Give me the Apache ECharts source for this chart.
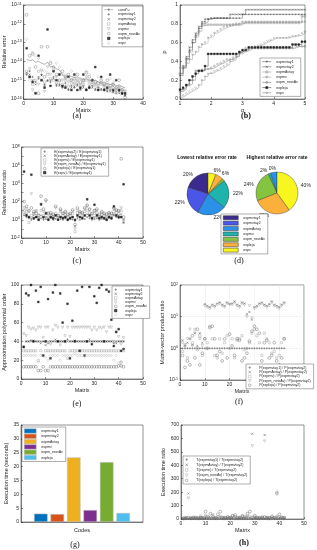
<!DOCTYPE html>
<html><head><meta charset="utf-8">
<script src="https://cdn.jsdelivr.net/npm/echarts@6/dist/echarts.min.js"></script>
<style>html,body{margin:0;padding:0;background:#fff}#c{width:317px;height:550px}</style>
</head><body><div id="c"></div><script>
// ---------- DATA ----------
// (a) relative error, matrices 1..34
const a_condu = [1.3e-14,1.1e-14,1.2e-14,9e-15,1e-14,8e-15,7e-15,9e-15,5e-15,5.5e-15,4e-15,3.5e-15,2e-15,1.5e-15,1.8e-15,1.6e-15,1.4e-15,1.5e-15,1.2e-15,1.1e-15,1.2e-15,1e-15,9e-16,1e-15,8e-16,7e-16,8e-16,6.5e-16,6e-16,6.5e-16,5e-16,5.5e-16,4.5e-16,4e-16];
const a_tay1 = [2e-15,3e-15,1.5e-15,8e-16,1.2e-15,2e-15,6e-16,1e-15,8e-16,1.5e-15,5e-16,6e-16,4e-16,7e-16,3e-16,5e-16,4e-16,6e-16,3.5e-16,5e-16,3e-16,4e-16,5e-16,3e-16,4e-16,3e-16,3.5e-16,2.5e-16,3e-16,2.5e-16,2e-16,2.5e-16,2e-16,1.5e-16];
const a_tay2 = [2.5e-15,2e-15,1e-15,6e-16,1.5e-15,1.8e-15,5e-16,9e-16,1e-15,1.2e-15,6e-16,5e-16,4.5e-16,5e-16,3.5e-16,4e-16,4.5e-16,5e-16,3e-16,4e-16,3.5e-16,5e-16,4e-16,3.5e-16,3e-16,3.5e-16,3e-16,3e-16,2.5e-16,2.2e-16,2.5e-16,2e-16,1.8e-16,1.6e-16];
const a_Avtay = [3e-15,1.5e-15,6e-16,1e-15,3e-15,1e-15,8e-16,2e-15,1.2e-15,1e-15,7e-16,9e-16,6e-16,1e-15,5e-16,7e-16,6e-16,8e-16,5e-16,6e-16,1e-15,7e-16,6e-16,5e-16,4e-16,6e-16,5e-16,4e-16,3.5e-16,4e-16,3e-16,3.5e-16,2.5e-16,2e-16];
const a_mv = [2e-15,4e-15,3e-16,2e-16,6e-16,3e-15,2.5e-16,5e-15,2e-15,3e-15,1.5e-15,2e-15,1e-15,1.2e-15,8e-16,1e-15,7e-16,1e-15,6e-16,8e-16,1.5e-15,9e-16,7e-16,6e-16,5e-16,7e-16,5e-16,6e-16,4e-16,5e-16,3.5e-16,4e-16,3e-16,2.5e-16];
const a_newAv = [3e-12,2e-14,2.5e-14,5e-15,2e-16,6e-14,1.5e-15,6e-14,8e-15,5e-15,2e-15,1e-15,3e-15,1.5e-15,2e-15,1e-15,1.2e-15,2e-15,8e-16,1e-15,2.5e-15,1.5e-15,1e-15,8e-16,7e-16,1e-15,6e-16,1e-15,5e-16,6e-16,4e-16,1e-15,3e-16,1.2e-16];
const a_leja = [5e-14,1.5e-15,8e-16,2e-16,2e-14,1e-15,4e-16,5e-13,5e-16,3e-15,1e-15,2e-15,5e-16,4e-16,1.5e-15,3e-16,2e-15,3e-16,4e-16,2e-15,3e-16,4e-16,1e-15,5e-15,3e-16,1.5e-15,3e-16,4e-16,2e-15,3e-16,1e-15,3e-16,2e-16,2e-16];
const a_v = [1.5e-13,1e-15,3e-14,2e-14,1.5e-14,4e-15,3e-15,2.5e-15,1e-14,4e-15,8e-15,5e-15,2e-15,2e-15,1.2e-15,3e-15,1e-15,1e-15,1.2e-15,1e-15,3e-15,2e-15,1e-15,7e-16,1.5e-15,8e-16,6e-16,5e-16,1.2e-15,8e-16,1e-15,5e-16,4e-16,3e-16];

// (b) performance profile
const b_alpha = [1,1.1,1.2,1.3,1.4,1.5,1.6,1.7,1.8,1.9,2,2.1,2.2,2.3,2.4,2.5,2.6,2.7,2.8,2.9,3,3.1,3.2,3.3,3.4,3.5,3.6,3.7,3.8,3.9,4,4.1,4.2,4.3,4.4,4.5,4.6,4.7,4.8,4.9,5];
const b_tay1 = [0.25,0.33,0.43,0.52,0.6,0.68,0.75,0.8,0.82,0.85,
  0.86,0.86,0.86,0.86,0.86,0.86,0.86,0.86,0.86,0.86,
  0.9,0.9,0.9,0.9,0.9,0.9,0.9,0.9,0.9,0.9,
  0.9,0.9,0.9,0.9,0.9,0.9,0.9,0.9,0.9,0.9,0.9];
const b_tay2 = [0.27,0.35,0.45,0.55,0.63,0.7,0.77,0.82,0.85,0.85,
  0.86,0.86,0.86,0.86,0.86,0.86,0.9,0.9,0.9,0.9,
  0.9,0.95,0.95,0.95,0.95,0.95,0.95,0.95,0.95,0.95,
  0.95,0.95,0.95,0.95,0.95,0.95,0.95,0.95,0.95,0.95,0.95];
const b_Avtay = [0.27,0.33,0.42,0.5,0.6,0.66,0.72,0.78,0.79,0.79,
  0.79,0.79,0.79,0.79,0.79,0.79,0.79,0.79,0.79,0.79,
  0.81,0.81,0.81,0.81,0.81,0.81,0.81,0.81,0.81,0.81,
  0.81,0.81,0.81,0.81,0.81,0.81,0.81,0.81,0.81,0.88,0.88];
const b_mv = [0.33,0.35,0.38,0.42,0.47,0.5,0.55,0.58,0.6,0.65,
  0.67,0.7,0.72,0.74,0.76,0.77,0.78,0.79,0.8,0.8,
  0.82,0.82,0.82,0.82,0.82,0.82,0.82,0.82,0.82,0.82,
  0.82,0.82,0.82,0.82,0.82,0.82,0.82,0.82,0.82,0.82,0.82];
const b_newAv = [0.08,0.1,0.14,0.16,0.2,0.3,0.3,0.31,0.32,0.32,
  0.33,0.35,0.37,0.38,0.4,0.42,0.42,0.44,0.46,0.5,
  0.52,0.54,0.54,0.54,0.54,0.54,0.54,0.54,0.54,0.54,
  0.54,0.54,0.54,0.54,0.54,0.54,0.54,0.56,0.56,0.56,0.56];
const b_leja = [0.1,0.12,0.15,0.2,0.24,0.27,0.3,0.3,0.35,0.48,
  0.48,0.48,0.48,0.48,0.48,0.48,0.48,0.48,0.48,0.5,
  0.52,0.52,0.55,0.55,0.55,0.55,0.55,0.55,0.55,0.55,
  0.55,0.55,0.55,0.55,0.55,0.55,0.58,0.58,0.58,0.61,0.61];
const b_v = [0.02,0.04,0.06,0.08,0.1,0.12,0.15,0.2,0.24,0.27,
  0.28,0.3,0.31,0.33,0.35,0.37,0.4,0.42,0.45,0.48,
  0.5,0.51,0.53,0.55,0.56,0.57,0.58,0.6,0.62,0.63,
  0.65,0.65,0.65,0.65,0.65,0.66,0.67,0.67,0.68,0.7,0.72];

// (c) relative error ratio, matrices 1..42
const c_r1 = [3,2,1.5,1,1.2,2,1,1.5,1,1.2,1,1.5,1,1.3,1,1.2,1,1.4,1,1.2,1.1,0.8,1.5,1,1.3,1.2,2,1.5,1,1.2,1.5,1,1.3,1.2,1,1.5,1.2,3,2,1.5,2,0.5];
const c_r2 = [5,4,2,1.5,3,2,1.5,3,1.5,2,1.5,2,1.2,3,1.5,2,1.5,2,1.2,1.5,2,0.2,3,2,2,3,4,3,1.5,2,3,1.5,2,1.5,1.5,2,2,4,3,3,4,1];
const c_r3 = [10,8,0.5,3,5,8,1.5,10,3,6,2,3,2,5,2,8,3,4,2,3,5,0.05,6,5,4,8,10,6,2,5,6,2,4,3,2,4,3,8,6,5,10,0.5];
const c_r4 = [20,15,8,700,5,10,3,50,8,100,5,4,3,20,3,10,5,6,3,4,8,0.1,10,6,5,15,30,12,4,10,10,3,6,4,3,5,4,15,10,8,20,1];
const c_r5 = [100,30,10,20,8,5,3,400,15,150,5,6,4,30,3,15,5,8,4,5,12,0.3,20,8,6,20,40,15,5,10,15,4,8,5,4,6,5,20,12,10,5e6,2];
const c_r6 = [2e5,3,2,9e4,1.5,2,1,50,2,5,1,2,1.5,3,1,2,1.5,2,1,1.5,2,1,3,2,1.5,3,180,3,1.5,45,3,1.5,2,1.5,1,2,1.5,30,3,2,2,8e3];

// (d) pie percentages
const d_codes = ['expmvtay1','expmvtay2','expmAvtay','expmv','expm_newAv','expleja','expv'];
const d_lowest = [20,22,22,22,2,6,6];
const d_highest = [0,0,5,2,24,29,40];

// (e) approximation polynomial order, matrices 1..42
const e_tay1 = [34,40,40,41,40,40,40,40,40,40,38,40,40,40,40,40,40,40,42,40,40,40,40,40,40,40,40,40,40,40,40,40,40,40,40,40,40,38,40,40,40,40];
const e_tay2 = [35,40,40,40,41,40,40,38,40,36,40,40,40,42,40,40,40,40,40,40,40,41,40,40,40,40,40,42,40,40,40,40,40,40,40,40,40,40,38,40,40,40];
const e_Avtay = [30,30,30,30,30,30,20,30,25,30,30,30,30,30,30,30,30,30,22,30,30,30,30,30,30,30,30,30,30,30,30,30,30,30,30,30,30,30,30,30,18,30];
const e_mv = [48,46,55,53,54,52,55,55,44,55,55,37,52,57,55,36,55,46,55,45,55,55,55,55,55,55,55,55,52,55,52,55,54,55,50,55,55,40,50,45,37,44];
const e_newAv = [13,13,13,13,13,13,9,9,13,9,9,13,13,13,13,13,13,13,13,13,13,13,13,13,13,13,13,13,13,13,13,13,13,13,13,13,13,13,13,14,14,13];
const e_leja = [34,91,89,100,40,94,82,98,25,40,85,22,92,100,40,91,60,40,80,22,62,40,94,30,98,25,40,98,37,88,81,97,100,40,95,93,63,35,50,53,30,32];
const e_v = [25,25,25,25,25,25,18,25,25,23,20,25,25,25,25,20,25,25,25,25,25,27,25,25,25,24,25,25,25,25,25,25,25,25,25,25,25,20,25,17,18,31];

// (f) matrix-vector product ratio, matrices 1..42
const f_p1 = [1,1,1,1,1,1,1,1,1,1,1,1,1,1,1,1,1,1,1,1,1,1,1,1,1,1,1,1,1,1,1,1,1,1,1,1,1,1,1,1,1,1];
const f_p2 = [1.8,1.2,1.5,2,1.3,3,1.2,3,1.5,25,22,20,24,22,26,28,24,22,28,25,26,30,24,22,28,26,12,14,8,20,22,26,28,24,22,25,30,24,22,20,24,28];
const f_p3 = [0.8,1.2,0.5,2,1.5,4,0.9,2.5,0.6,2,1.5,5,2,0.6,0.5,2,0.7,1.5,2.5,1,2,0.5,1.8,2,2.5,0.9,1,1.5,3,4,2.5,1.5,0.6,3,2,1.5,0.7,0.8,0.5,0.6,1.5,2];
const f_p4 = [1.5,1.3,2,4,1.2,3,1,2,1.2,22,20,18,22,20,24,26,22,20,26,24,24,28,22,20,26,24,10,22,9,18,20,24,26,22,20,22,28,22,20,18,22,26];
const f_p5 = [0.6,0.25,0.4,0.3,2.5,0.5,4,0.3,0.7,2,1,4.5,5,2,0.6,0.8,0.4,2,0.5,2.8,1.2,0.6,2,1.8,0.4,0.5,0.7,1.7,3.5,5,4,3,0.4,1.5,1.8,0.5,0.6,1.5,0.4,0.3,0.5,2];

// (g) execution time (seconds)
const g_codes = ['expmvtay1','expmvtay2','expmAvtay','expmv','expm_newAv','expleja'];
const g_times = [3.0,2.85,23.3,4.3,21.6,3.25];

// (h) execution time ratio, matrices 1..42
const h_t1 = [1,1,2,1,1,1,1,2,1,2,1,1,2,1,1,2,1,1,1,1,2,1,1,1,1,1,2,1,3,2,1,1,1,3,1,1,1,1,2,1,1,1];
const h_t2 = [5,8,190,6,10,8,6,15,8,20,10,8,12,8,10,15,8,6,10,8,12,10,6,8,10,8,15,10,635,12,8,6,10,625,8,6,10,8,15,10,8,6];
const h_t3 = [2,3,5,3,4,3,2,4,3,5,4,3,4,3,4,5,3,2,4,3,4,3,2,3,4,3,5,4,8,4,3,2,3,8,3,2,3,3,200,4,3,2];
const h_t4 = [6,10,155,8,12,10,8,20,10,25,12,10,30,10,12,20,10,8,12,10,20,15,8,10,25,10,20,15,545,15,10,8,12,580,10,8,12,10,20,12,10,8];
const h_t5 = [5,8,10,6,8,10,6,10,8,55,15,40,20,8,35,55,10,8,15,10,25,30,10,12,20,15,40,55,10,25,10,8,12,15,10,8,20,10,190,35,12,10];

// ---------- STYLE HELPERS ----------
const AX = '#262626', FONT = 'Liberation Sans';
const pts = arr => arr.map((v, i) => [i + 1, v]);
const SYM = {
  plus: 'path://M5,0L5,10M0,5L10,5',
  cross: 'path://M0,0L10,10M10,0L0,10',
  tri: 'path://M0,0L10,0L5,9Z',
  sq: 'path://M0,0L10,0L10,10L0,10Z',
  circ: 'path://M10,5A5,5,0,1,1,0,5A5,5,0,1,1,10,5Z',
  dia: 'path://M5,0L10,5L5,10L0,5Z'
};
const supRich = {s: {fontSize: 3.6, color: AX, fontFamily: FONT, padding: [0, 0, 3, 0]}};
const supFmt = v => '10{s|' + Math.round(Math.log10(v)) + '}';
const supFmtEven = v => { const e = Math.round(Math.log10(v)); return e % 2 === 0 ? '10{s|' + e + '}' : ''; };

function ax(extra) {
  return Object.assign({
    axisLine: {show: true, onZero: false, lineStyle: {color: AX, width: 0.5}},
    axisTick: {show: true, inside: true, length: 2, lineStyle: {color: AX, width: 0.5}},
    axisLabel: {fontSize: 5, color: AX, margin: 2, fontFamily: FONT},
    splitLine: {show: false},
    nameLocation: 'middle',
    nameTextStyle: {fontSize: 5.5, color: AX, fontFamily: FONT}
  }, extra);
}
function logAx(extra, fmt) {
  const a = ax(extra);
  a.type = 'log'; a.logBase = 10;
  a.axisLabel = Object.assign({}, a.axisLabel, {formatter: fmt || supFmt, rich: supRich, showMinLabel: true, showMaxLabel: true});
  return a;
}
function sc(name, gi, arr, sym, size, fill, stroke, z) {
  return {type: 'scatter', name: name, xAxisIndex: gi, yAxisIndex: gi, data: pts(arr),
    symbol: sym, symbolSize: size, z: z || 2,
    itemStyle: {color: fill, borderColor: stroke, borderWidth: 0.5}};
}
const T = 'rgba(0,0,0,0)';
function legend(extra) {
  return Object.assign({
    orient: 'vertical', itemWidth: 9, itemHeight: 2.6, itemGap: 0.5,
    padding: [1.5, 3, 1.5, 2], borderColor: '#333', borderWidth: 0.4, backgroundColor: '#fff',
    textStyle: {fontSize: 3.6, lineHeight: 4.2, color: AX, fontFamily: FONT},
    itemStyle: {borderWidth: 0.5}, lineStyle: {width: 0.5},
    formatter: n => n.split('|')[1], selectedMode: false, z: 10
  }, extra);
}
function lbl(text, x, y, bold, size, fam) {
  return {text: text, left: x, top: y, textAlign: 'center', padding: 0,
    textStyle: {fontSize: size || 8, fontWeight: bold ? 'bold' : 'normal', color: '#111',
      fontFamily: fam || 'Liberation Serif'}};
}

// ---------- GRIDS ----------
const grids = [
  {left: 22, top: 5, width: 121, height: 94},    // a
  {left: 180, top: 5, width: 125, height: 94},   // b
  {left: 21, top: 147, width: 122, height: 91},  // c
  {left: 21, top: 285, width: 122, height: 94},  // e
  {left: 180, top: 285, width: 124, height: 95}, // f
  {left: 21, top: 425, width: 122, height: 97},  // g
  {left: 181, top: 425, width: 123, height: 94}  // h
].map(g => Object.assign(g, {show: true, borderColor: AX, borderWidth: 0.5, backgroundColor: '#fff'}));

const xAxes = [
  ax({type: 'value', gridIndex: 0, min: 0, max: 40, interval: 10, name: 'Matrix', nameGap: 8}),
  ax({type: 'value', gridIndex: 1, min: 1, max: 5, interval: 1, name: 'α', nameGap: 8}),
  ax({type: 'value', gridIndex: 2, min: 0, max: 50, interval: 10, name: 'Matrix', nameGap: 8}),
  ax({type: 'value', gridIndex: 3, min: 0, max: 50, interval: 10, name: 'Matrix', nameGap: 8}),
  ax({type: 'value', gridIndex: 4, min: 0, max: 50, interval: 10, name: 'Matrix', nameGap: 8,
      splitLine: {show: true, lineStyle: {color: '#e6e6e6', width: 0.5}}}),
  ax({type: 'category', gridIndex: 5, data: ['Codes'], name: 'Codes', nameGap: 5,
      axisLabel: {show: false}, axisTick: {show: false}}),
  ax({type: 'value', gridIndex: 6, min: 0, max: 50, interval: 10, name: 'Matrix', nameGap: 8})
];
const yAxes = [
  logAx({gridIndex: 0, min: 1e-16, max: 1e-11, interval: 1, name: 'Relative error', nameGap: 14}),
  ax({type: 'value', gridIndex: 1, min: 0, max: 1, interval: 0.2, name: 'p', nameGap: 9}),
  logAx({gridIndex: 2, min: 1e-2, max: 1e8, interval: 1, name: 'Relative error ratio', nameGap: 13}, supFmtEven),
  ax({type: 'value', gridIndex: 3, min: 0, max: 100, interval: 20, name: 'Approximation polynomial order', nameGap: 11}),
  logAx({gridIndex: 4, min: 0.1, max: 100, interval: 1, name: 'Matrix-vector product ratio', nameGap: 13,
      splitLine: {show: true, lineStyle: {color: '#e6e6e6', width: 0.5}}}),
  ax({type: 'value', gridIndex: 5, min: 0, max: 35, interval: 5, name: 'Execution time (seconds)', nameGap: 9}),
  ax({type: 'value', gridIndex: 6, min: 0, max: 700, interval: 100, name: 'Execution time ratio', nameGap: 12})
];

// ---------- SERIES ----------
const series = [];
// (a)
series.push({type: 'line', name: 'a|cond*u', xAxisIndex: 0, yAxisIndex: 0, data: pts(a_condu),
  symbol: 'none', lineStyle: {color: '#808080', width: 0.6}, itemStyle: {color: '#808080'}, z: 3});
series.push(sc('a|expmvtay1', 0, a_tay1, SYM.plus, 2.2, T, '#222'));
series.push(sc('a|expmvtay2', 0, a_tay2, SYM.cross, 2, T, '#222'));
series.push(sc('a|expmAvtay', 0, a_Avtay, SYM.sq, 2.2, T, '#999'));
series.push(sc('a|expmv', 0, a_mv, SYM.tri, 2.5, T, '#999'));
series.push(sc('a|expm_newAv', 0, a_newAv, SYM.circ, 2.8, T, '#666'));
series.push(sc('a|expleja', 0, a_leja, SYM.sq, 1.8, '#111', '#111'));
series.push(sc('a|expv', 0, a_v, SYM.dia, 2.8, T, '#aaa'));

// (b)
const bDefs = [
  ['b|expmvtay1', b_tay1, SYM.plus, T, '#444'],
  ['b|expmvtay2', b_tay2, SYM.cross, T, '#444'],
  ['b|expmAvtay', b_Avtay, SYM.sq, T, '#888'],
  ['b|expmv', b_mv, SYM.tri, T, '#888'],
  ['b|expm_newAv', b_newAv, SYM.circ, T, '#666'],
  ['b|expleja', b_leja, SYM.sq, '#222', '#222'],
  ['b|expv', b_v, SYM.dia, T, '#777']
];
bDefs.forEach(d => series.push({type: 'line', name: d[0], xAxisIndex: 1, yAxisIndex: 1, step: 'end',
  data: d[1].map((v, i) => [b_alpha[i], v]), symbol: d[2], symbolSize: 1.8, showSymbol: true,
  lineStyle: {color: d[4], width: 0.4}, itemStyle: {color: d[3], borderColor: d[4], borderWidth: 0.4}}));

// (c)
series.push(sc('c|E(expmvtay2) / E(expmvtay1)', 2, c_r1, SYM.plus, 2.2, T, '#333'));
series.push(sc('c|E(expmAvtay) / E(expmvtay1)', 2, c_r2, SYM.cross, 2, T, '#333'));
series.push(sc('c|E(expmv) / E(expmvtay1)', 2, c_r3, SYM.sq, 2.2, T, '#999'));
series.push(sc('c|E(expm_newAv) / E(expmvtay1)', 2, c_r4, SYM.tri, 2.5, T, '#999'));
series.push(sc('c|E(expleja) / E(expmvtay1)', 2, c_r5, SYM.circ, 2.8, T, '#555'));
series.push(sc('c|E(expv) / E(expmvtay1)', 2, c_r6, SYM.sq, 1.8, '#111', '#111'));

// (d) pies
const PIE_COLORS = ['#3c2b8f', '#4a56e6', '#2a90e8', '#1eb3ac', '#85c441', '#fbb03b', '#f8f51f'];
function pie(center, vals) {
  return {type: 'pie', center: center, radius: 21, startAngle: 90, clockwise: false,
    avoidLabelOverlap: false, minShowLabelAngle: 0, stillShowZeroSum: true,
    data: vals.map((v, i) => ({name: 'd|' + d_codes[i], value: v, itemStyle: {color: PIE_COLORS[i]}})),
    itemStyle: {borderColor: '#333', borderWidth: 0.4},
    label: {show: true, position: 'outside', formatter: p => p.value + '%', fontSize: 5, color: AX,
      fontFamily: FONT, distanceToLabelLine: 0},
    labelLine: {show: false, length: 3, length2: 1},
    emphasis: {disabled: true}};
}
series.push(pie([208, 194], d_lowest));
series.push(pie([277, 193], d_highest));

// (e)
series.push(sc('e|expmvtay1', 3, e_tay1, SYM.plus, 2.2, T, '#333'));
series.push(sc('e|expmvtay2', 3, e_tay2, SYM.cross, 2, T, '#333'));
series.push(sc('e|expmAvtay', 3, e_Avtay, SYM.sq, 2.2, T, '#999'));
series.push(sc('e|expmv', 3, e_mv, SYM.tri, 2.5, T, '#999'));
series.push(sc('e|expm_newAv', 3, e_newAv, SYM.circ, 2.8, T, '#555'));
series.push(sc('e|expleja', 3, e_leja, SYM.sq, 1.8, '#111', '#111'));
series.push(sc('e|expv', 3, e_v, SYM.dia, 2.8, T, '#aaa'));

// (f)
series.push(sc('f|P(expmvtay1) / P(expmvtay2)', 4, f_p1, SYM.plus, 2.2, T, '#333'));
series.push(sc('f|P(expmAvtay) / P(expmvtay2)', 4, f_p2, SYM.cross, 2, T, '#333'));
series.push(sc('f|P(expmv) / P(expmvtay2)', 4, f_p3, SYM.sq, 2.2, T, '#999'));
series.push(sc('f|P(expm_newAv) / P(expmvtay2)', 4, f_p4, SYM.tri, 2.5, T, '#999'));
series.push(sc('f|P(expleja) / P(expmvtay2)', 4, f_p5, SYM.circ, 2.8, T, '#555'));

// (g)
const G_COLORS = ['#0072BD', '#D95319', '#EDB120', '#7E2F8E', '#77AC30', '#4DBEEE'];
g_codes.forEach((c, i) => series.push({type: 'bar', name: 'g|' + c, xAxisIndex: 5, yAxisIndex: 5,
  data: [g_times[i]], barWidth: 13.5, barGap: '22%',
  itemStyle: {color: G_COLORS[i], borderColor: '#bbb', borderWidth: 0.5}}));

// (h)
series.push(sc('h|T(expmvtay1) / T(expmvtay2)', 6, h_t1, SYM.plus, 2.2, T, '#333'));
series.push(sc('h|T(expmAvtay) / T(expmvtay2)', 6, h_t2, SYM.cross, 2, T, '#333'));
series.push(sc('h|T(expmv) / T(expmvtay2)', 6, h_t3, SYM.sq, 2.2, T, '#999'));
series.push(sc('h|T(expm_newAv) / T(expmvtay2)', 6, h_t4, SYM.tri, 2.5, T, '#999'));
series.push(sc('h|T(expleja) / T(expmvtay2)', 6, h_t5, SYM.circ, 2.8, T, '#555'));

const names = p => series.filter(s => s.name && s.name.startsWith(p + '|')).map(s => s.name);

const option = {
  backgroundColor: '#fff',
  animation: false,
  grid: grids, xAxis: xAxes, yAxis: yAxes, series: series,
  legend: [
    legend({data: names('a'), left: 102, top: 6, itemGap: 0.6}),
    legend({data: names('b'), left: 260, top: 58, itemGap: 1}),
    legend({data: names('c'), left: 41, top: 148, itemGap: 0}),
    legend({data: d_codes.map(c => 'd|' + c), left: 221, top: 214, itemWidth: 15, itemHeight: 4, icon: 'rect', itemGap: 0.9}),
    legend({data: names('e'), left: 112, top: 286, itemGap: 0}),
    legend({data: names('f'), left: 246, top: 364, itemGap: 0.2}),
    legend({data: names('g'), left: 22, top: 427, itemWidth: 12, itemHeight: 4.5, icon: 'rect', itemGap: 0.3}),
    legend({data: names('h'), left: 183, top: 456, itemGap: 1})
  ],
  title: [
    lbl('(a)', 77, 112, false),
    lbl('(b)', 246, 112, true),
    lbl('(c)', 77, 257, false),
    lbl('(d)', 239, 257, false),
    lbl('(e)', 77, 400, false),
    lbl('(f)', 239, 398, false),
    lbl('(g)', 75, 541, false),
    lbl('(h)', 244, 539, true),
    lbl('Lowest relative error rate', 207, 155, true, 5, FONT),
    lbl('Highest relative error rate', 277, 155, true, 5, FONT)
  ]
};
const chart = echarts.init(document.getElementById('c'), null, {renderer: 'canvas'});
chart.setOption(option);
</script></body></html>
